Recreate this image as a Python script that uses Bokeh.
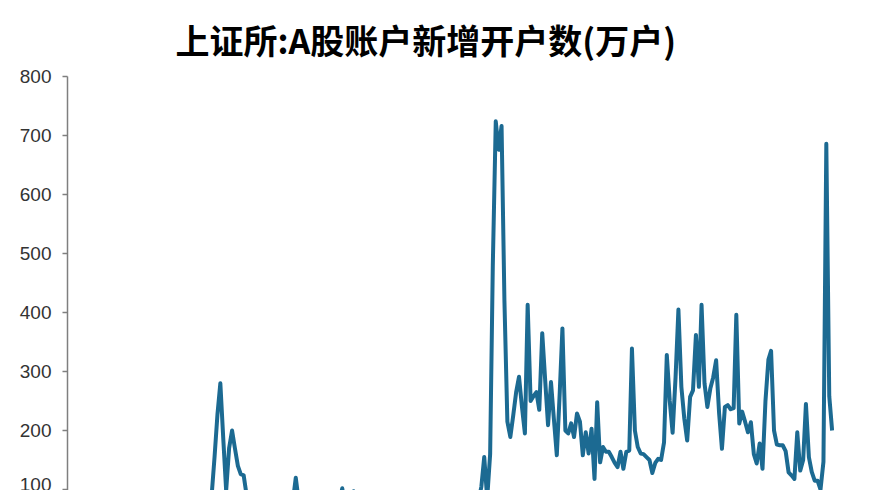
import pandas as pd
from bokeh.plotting import figure
from bokeh.models import Range1d, FixedTicker
from bokeh.embed import file_html
from bokeh.resources import INLINE

# 上证所 A股账户新增开户数 (万户), monthly, Jan 2003 - Dec 2024
v2003 = [8, 7, 9, 10, 8, 6, 5, 5, 4, 5, 4, 4]
v2004 = [6, 9, 12, 10, 6, 4, 4, 3, 4, 4, 3, 3]
v2005 = [3, 3, 3, 3, 4, 4, 3, 3, 5, 4, 3, 4]
v2006 = [6, 6, 7, 12, 20, 24, 15, 15, 14, 22, 40, 60]
v2007 = [78, 95, 155, 228, 280, 185, 98, 170, 200, 170, 140, 126]
v2008 = [124, 90, 65, 55, 50, 40, 35, 30, 35, 30, 28, 40]
v2009 = [50, 55, 70, 75, 80, 80, 120, 80, 60, 70, 60, 55]
v2010 = [55, 40, 45, 45, 50, 40, 40, 40, 50, 75, 102, 70]
v2011 = [60, 60, 97, 70, 55, 50, 45, 40, 35, 35, 30, 30]
v2012 = [30, 35, 45, 40, 35, 30, 28, 25, 25, 22, 25, 30]
v2013 = [45, 35, 45, 35, 35, 35, 30, 30, 40, 40, 35, 35]
v2014 = [40, 30, 35, 30, 30, 30, 40, 55, 55, 80, 105, 155]
v2015 = [85, 160, 480, 724, 676, 716, 420, 215, 189, 225, 265, 291]
v2016 = [240, 195, 413, 250, 258, 265, 235, 365, 285, 209, 282, 220]
v2017 = [158, 265, 373, 200, 195, 212, 189, 229, 215, 158, 197, 161]
v2018 = [203, 118, 248, 146, 172, 164, 164, 155, 145, 138, 164, 135]
v2019 = [164, 166, 339, 200, 172, 161, 160, 155, 150, 128, 145, 152]
v2020 = [150, 180, 328, 250, 196, 290, 405, 274, 220, 183, 257, 268]
v2021 = [362, 274, 413, 280, 240, 271, 290, 319, 230, 169, 240, 243]
v2022 = [236, 238, 396, 212, 232, 215, 197, 214, 160, 144, 178, 135]
v2023 = [250, 320, 335, 200, 176, 175, 175, 165, 129, 124, 118, 197]
v2024 = [132, 150, 245, 155, 130, 115, 115, 100, 147, 686, 258, 200]

values = (v2003 + v2004 + v2005 + v2006 + v2007 + v2008 + v2009 + v2010 + v2011
          + v2012 + v2013 + v2014 + v2015 + v2016 + v2017 + v2018 + v2019 + v2020
          + v2021 + v2022 + v2023 + v2024)
months = pd.date_range("2003-01-01", periods=len(values), freq="MS")
y_ticks = [100, 200, 300, 400, 500, 600, 700, 800]
title_text = "上证所:A股账户新增开户数(万户)"

p = figure(width=862, height=490, output_backend="svg", toolbar_location=None,
           x_axis_type="datetime",
           x_range=Range1d(pd.Timestamp("2002-12-08"), pd.Timestamp("2025-05-01")),
           y_range=Range1d(98.3, 800),
           min_border_left=67, min_border_right=16, min_border_top=0, min_border_bottom=0)

p.title.text = title_text
p.title.text_font = "Noto Sans CJK SC"
p.title.text_font_size = "34px"
p.title.text_font_style = "bold"
p.title.text_color = "#000000"
p.title.align = "left"
p.title.offset = 108
p.title.standoff = 25

p.line(months, values, line_color="#1c6a92", line_width=4, line_join="round")

p.xaxis.visible = False
p.xgrid.visible = False
p.ygrid.visible = False
p.outline_line_color = None

ya = p.yaxis[0]
ya.ticker = FixedTicker(ticks=y_ticks)
ya.minor_tick_line_color = None
ya.major_tick_in = 0
ya.major_tick_out = 5
ya.axis_line_color = "#7f7f7f"
ya.axis_line_width = 1.5
ya.major_tick_line_color = "#7f7f7f"
ya.major_tick_line_width = 1.5
ya.major_label_text_font = "Liberation Sans"
ya.major_label_text_font_size = "19px"
ya.major_label_text_color = "#333333"
ya.major_label_standoff = 11

open("out.html", "w").write(file_html(p, INLINE))
